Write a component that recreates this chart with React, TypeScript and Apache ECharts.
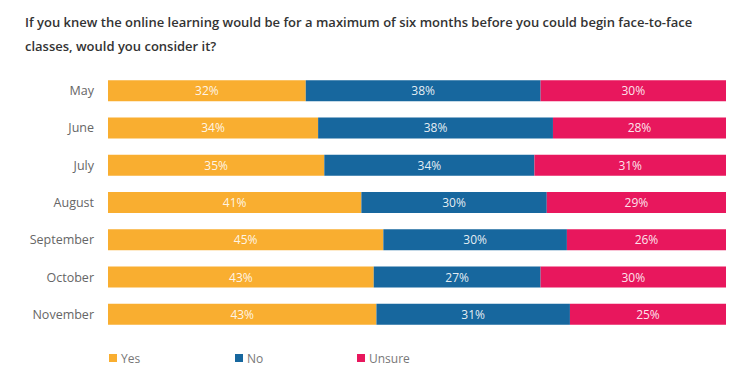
import React, { useEffect, useRef } from "react";
import * as echarts from "echarts";

const titleText =
  "If you knew the online learning would be for a maximum of six months before you could begin face-to-face\nclasses, would you consider it?";
const months = ["May", "June", "July", "August", "September", "October", "November"];
const yesValues = [32, 34, 35, 41, 45, 43, 43];
const noValues = [38, 38, 34, 30, 30, 27, 31];
const unsureValues = [30, 28, 31, 29, 26, 30, 25];
const seriesNames = ["Yes", "No", "Unsure"];
const seriesColors = ["#F9AE30", "#17679E", "#E8175D"];

export default function App() {
  const ref = useRef<HTMLDivElement>(null);
  useEffect(() => {
    document.body.style.margin = "0";
    if (!ref.current) return;
    const chart = echarts.init(ref.current, undefined, { renderer: "svg" });
    const raw = [yesValues, noValues, unsureValues];
    const totals = months.map((_, i) => yesValues[i] + noValues[i] + unsureValues[i]);
    const font = "'Open Sans', sans-serif";
    const legendLefts = [104, 230, 352];
    chart.setOption({
      animation: false,
      textStyle: { fontFamily: font },
      title: {
        text: titleText,
        left: 20,
        top: 5,
        textStyle: {
          fontFamily: font,
          fontSize: 13,
          fontWeight: 600,
          color: "#333",
          lineHeight: 24,
        },
      },
      legend: seriesNames.map((name, k) => ({
        data: [name],
        left: legendLefts[k],
        top: 347,
        icon: "rect",
        itemWidth: 8,
        itemHeight: 8,
        itemGap: 4,
        selectedMode: false,
        textStyle: { fontFamily: font, fontSize: 12, color: "#777", padding: [0, 0, 0, -1] },
      })),
      grid: { left: 108, right: 30, top: 72, bottom: 39, containLabel: false },
      xAxis: {
        type: "value",
        min: 0,
        max: 100,
        show: false,
      },
      yAxis: {
        type: "category",
        data: months,
        inverse: true,
        axisLine: { show: false },
        axisTick: { show: false },
        axisLabel: { fontFamily: font, fontSize: 12.5, color: "#666", margin: 14 },
      },
      series: seriesNames.map((name, k) => ({
        name,
        type: "bar",
        stack: "total",
        barWidth: 21,
        itemStyle: { color: seriesColors[k] },
        label: {
          show: true,
          position: "inside",
          fontFamily: font,
          fontSize: 12,
          color: "rgba(255,255,255,0.9)",
          formatter: (p: any) => raw[k][p.dataIndex] + "%",
        },
        data: raw[k].map((v, i) => (v / totals[i]) * 100),
      })),
    });
    return () => chart.dispose();
  }, []);
  return <div ref={ref} style={{ width: 756, height: 372 }} />;
}
